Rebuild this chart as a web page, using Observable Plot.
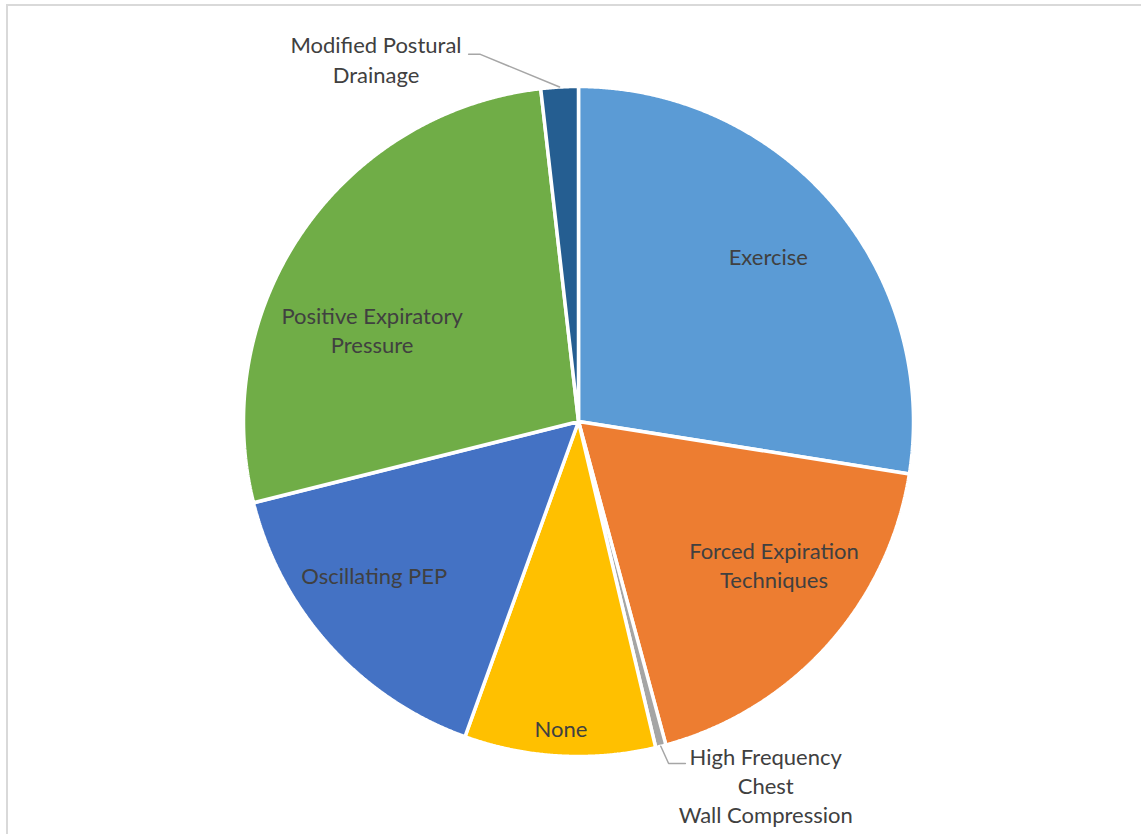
<!DOCTYPE html>
<html>
<head>
<meta charset="utf-8">
<script src="https://cdn.jsdelivr.net/npm/d3@7"></script>
<script src="https://cdn.jsdelivr.net/npm/@observablehq/plot@0.6"></script>
<style>
  html, body { margin: 0; padding: 0; background: #fff; overflow: hidden; }
  #wrap { position: relative; width: 1141px; height: 834px; overflow: hidden; }
  #frame { position: absolute; left: 6px; top: 4px; width: 1300px; height: 1000px; border: 2px solid #d9d9d9; box-sizing: border-box; }
  #chart { position: absolute; left: 0; top: 0; }
</style>
</head>
<body>
<div id="wrap"><div id="frame"></div><div id="chart"></div></div>
<script>
// ---- data ----
const categories = [
  "Exercise",
  "Forced Expiration Techniques",
  "High Frequency Chest Wall Compression",
  "None",
  "Oscillating PEP",
  "Positive Expiratory Pressure",
  "Modified Postural Drainage"
];
const shares = [27.5, 18.3, 0.5, 9.2, 15.6, 27.1, 1.8];
const labelTexts = [
  "Exercise",
  "Forced Expiration\nTechniques",
  "High Frequency\nChest\nWall Compression",
  "None",
  "Oscillating PEP",
  "Positive Expiratory\nPressure",
  "Modified Postural\nDrainage"
];
const colors = ["#5B9BD5", "#ED7D31", "#A5A5A5", "#FFC000", "#4472C4", "#70AD47", "#255E91"];

// ---- label layout (angle offset from slice middle in degrees, radius as fraction) ----
const labelAngleOffset = [0, -5, -12.8, 0, 4.5, -11.6, -26.2];
const labelRadius = [0.745, 0.73, 1.23, 0.927, 0.77, 0.67, 1.23];
// leader lines for outside labels: [elbow, end] in unit coordinates
const leaders = {
  "High Frequency Chest Wall Compression": [[0.269, -1.021], [0.319, -1.021]],
  "Modified Postural Drainage": [[-0.293, 1.096], [-0.328, 1.096]]
};

// ---- build pie geometry ----
const total = d3.sum(shares);
let acc = 0;
const slices = categories.map((name, i) => {
  const a0 = acc / total * 360;
  acc += shares[i];
  const a1 = acc / total * 360;
  return {name, a0, a1, mid: (a0 + a1) / 2, i};
});
const rad = d => d * Math.PI / 180;
const polyPts = [];
for (const s of slices) {
  polyPts.push({name: s.name, x: 0, y: 0});
  const n = Math.max(2, Math.ceil((s.a1 - s.a0) / 0.25));
  for (let k = 0; k <= n; k++) {
    const a = rad(s.a0 + (s.a1 - s.a0) * k / n);
    polyPts.push({name: s.name, x: Math.sin(a), y: Math.cos(a)});
  }
  polyPts.push({name: s.name, x: 0, y: 0});
}
const labels = slices.map(s => {
  const a = rad(s.mid + labelAngleOffset[s.i]);
  const r = labelRadius[s.i];
  return {name: s.name, text: labelTexts[s.i], x: r * Math.sin(a), y: r * Math.cos(a)};
});
const leaderPts = [];
for (const s of slices) {
  if (!leaders[s.name]) continue;
  const a = rad(s.mid);
  leaderPts.push({name: s.name, x: Math.sin(a), y: Math.cos(a)});
  for (const p of leaders[s.name]) leaderPts.push({name: s.name, x: p[0], y: p[1]});
}

const cx = 578, cy = 421, R = 335;
const chart = Plot.plot({
  width: 1141,
  height: 834,
  margin: 0,
  style: {background: "transparent", fontFamily: "Lato, 'Open Sans', sans-serif"},
  x: {domain: [-1, 1], range: [cx - R, cx + R], axis: null},
  y: {domain: [-1, 1], range: [cy + R, cy - R], axis: null},
  color: {domain: categories, range: colors},
  marks: [
    Plot.line(polyPts, {x: "x", y: "y", z: "name", fill: "name", stroke: "white", strokeWidth: 3.5, strokeLinejoin: "miter"}),
    Plot.line(leaderPts, {x: "x", y: "y", z: "name", stroke: "#a6a6a6", strokeWidth: 1.5}),
    Plot.text(labels, {x: "x", y: "y", text: "text", fontSize: 22, fill: "#404040", lineHeight: 1.33, textAnchor: "middle", dy: -4})
  ]
});
document.getElementById("chart").appendChild(chart);
</script>
</body>
</html>
